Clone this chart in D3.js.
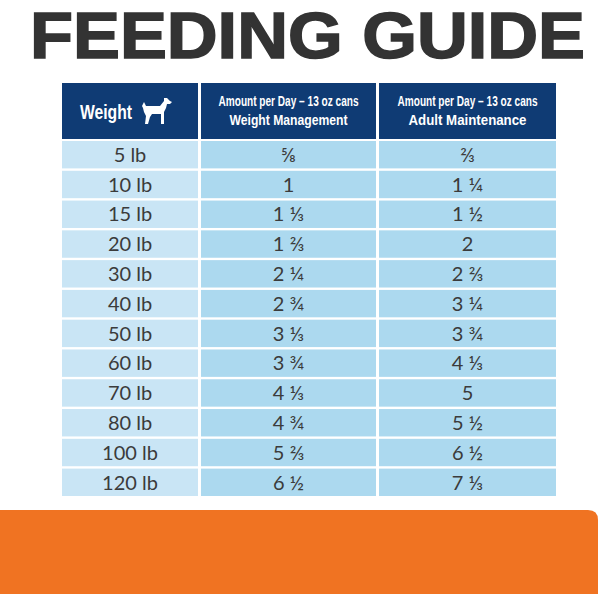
<!DOCTYPE html>
<html>
<head>
<meta charset="utf-8">
<script src="https://cdn.jsdelivr.net/npm/d3@7"></script>
<style>
body { margin: 0; background: #fff; }
</style>
</head>
<body>
<script>
var weights = ["5 lb", "10 lb", "15 lb", "20 lb", "30 lb", "40 lb", "50 lb", "60 lb", "70 lb", "80 lb", "100 lb", "120 lb"]
var weightMgmt = ["⅝", "1", "1 ⅓", "1 ⅔", "2 ¼", "2 ¾", "3 ⅓", "3 ¾", "4 ⅓", "4 ¾", "5 ⅔", "6 ½"]
var adultMaint = ["⅔", "1 ¼", "1 ½", "2", "2 ⅔", "3 ¼", "3 ¾", "4 ⅓", "5", "5 ½", "6 ½", "7 ⅓"]
var headers = [["Weight"], ["Amount per Day – 13 oz cans", "Weight Management"], ["Amount per Day – 13 oz cans", "Adult Maintenance"]]

var svg = d3.select("body").append("svg").attr("width", 600).attr("height", 600)

// title
svg.append("text").text("FEEDING GUIDE")
  .attr("x", 30).attr("y", 58)
  .attr("textLength", 555).attr("lengthAdjust", "spacingAndGlyphs")
  .attr("font-family", "Liberation Sans, Arial, sans-serif").attr("font-weight", "bold")
  .attr("font-size", 64).attr("fill", "#333333")
  .attr("stroke", "#333333").attr("stroke-width", 1.5)

// columns (edges)
var colX = [62, 201, 379]
var colW = [136, 175, 177]

var rowScale = d3.scaleBand().domain(weights).range([141, 496]).paddingInner(0.08)

// header
headers.forEach(function(h, i) {
  svg.append("rect").attr("x", colX[i]).attr("y", 83).attr("width", colW[i]).attr("height", 56).attr("fill", "#0f3b74")
  var cx = colX[i] + colW[i] / 2
  if (i == 0) {
    svg.append("text").text(h[0]).attr("x", cx - 24).attr("y", 119).attr("text-anchor", "middle")
      .attr("textLength", 52).attr("lengthAdjust", "spacingAndGlyphs")
      .attr("font-family", "Liberation Sans, sans-serif").attr("font-weight", "bold")
      .attr("font-size", 20).attr("fill", "#fff")
    // little dog
    var g = svg.append("g").attr("transform", "translate(" + (cx + 12) + ",98)").attr("fill", "#fff")
    g.append("path").attr("d", "M0,8 L2,4 L4,8 L18,8 L22,3 L22,0 L25,0 L28,3 L30,4 L28,6 L25,6 L24,10 L22,14 L22,26 L19,26 L19,16 L10,16 L8,19 L6,26 L3,26 L4,18 L2,14 L1,10 Z")
  } else {
    h.forEach(function(line, j) {
      svg.append("text").text(line).attr("x", cx).attr("y", 106 + j * 19).attr("text-anchor", "middle")
        .attr("textLength", j == 0 ? 140 : 118).attr("lengthAdjust", "spacingAndGlyphs")
        .attr("font-family", "Liberation Sans, sans-serif").attr("font-weight", "bold")
        .attr("font-size", 14).attr("fill", "#fff")
    })
  }
})

var cols = [weights, weightMgmt, adultMaint]
var fills = ["#c9e5f5", "#acd9ef", "#acd9ef"]

cols.forEach(function(vals, i) {
  var g = svg.append("g")
  g.selectAll("rect").data(weights).enter().append("rect")
    .attr("x", colX[i]).attr("y", d => rowScale(d))
    .attr("width", colW[i]).attr("height", rowScale.bandwidth())
    .attr("fill", fills[i])
  g.selectAll("text").data(vals).enter().append("text")
    .text(d => d)
    .attr("x", colX[i] + colW[i] / 2)
    .attr("y", (d, k) => rowScale(weights[k]) + rowScale.bandwidth() / 2)
    .attr("dy", "0.36em").attr("text-anchor", "middle")
    .attr("font-family", "Lato, Noto Sans, sans-serif").attr("font-size", 20)
    .attr("fill", "#3b3b3b")
})

// orange band
svg.append("path").attr("d", "M0,510 L588,510 Q598,510 598,520 L598,594 L0,594 Z").attr("fill", "#f07322")
</script>
</body>
</html>
